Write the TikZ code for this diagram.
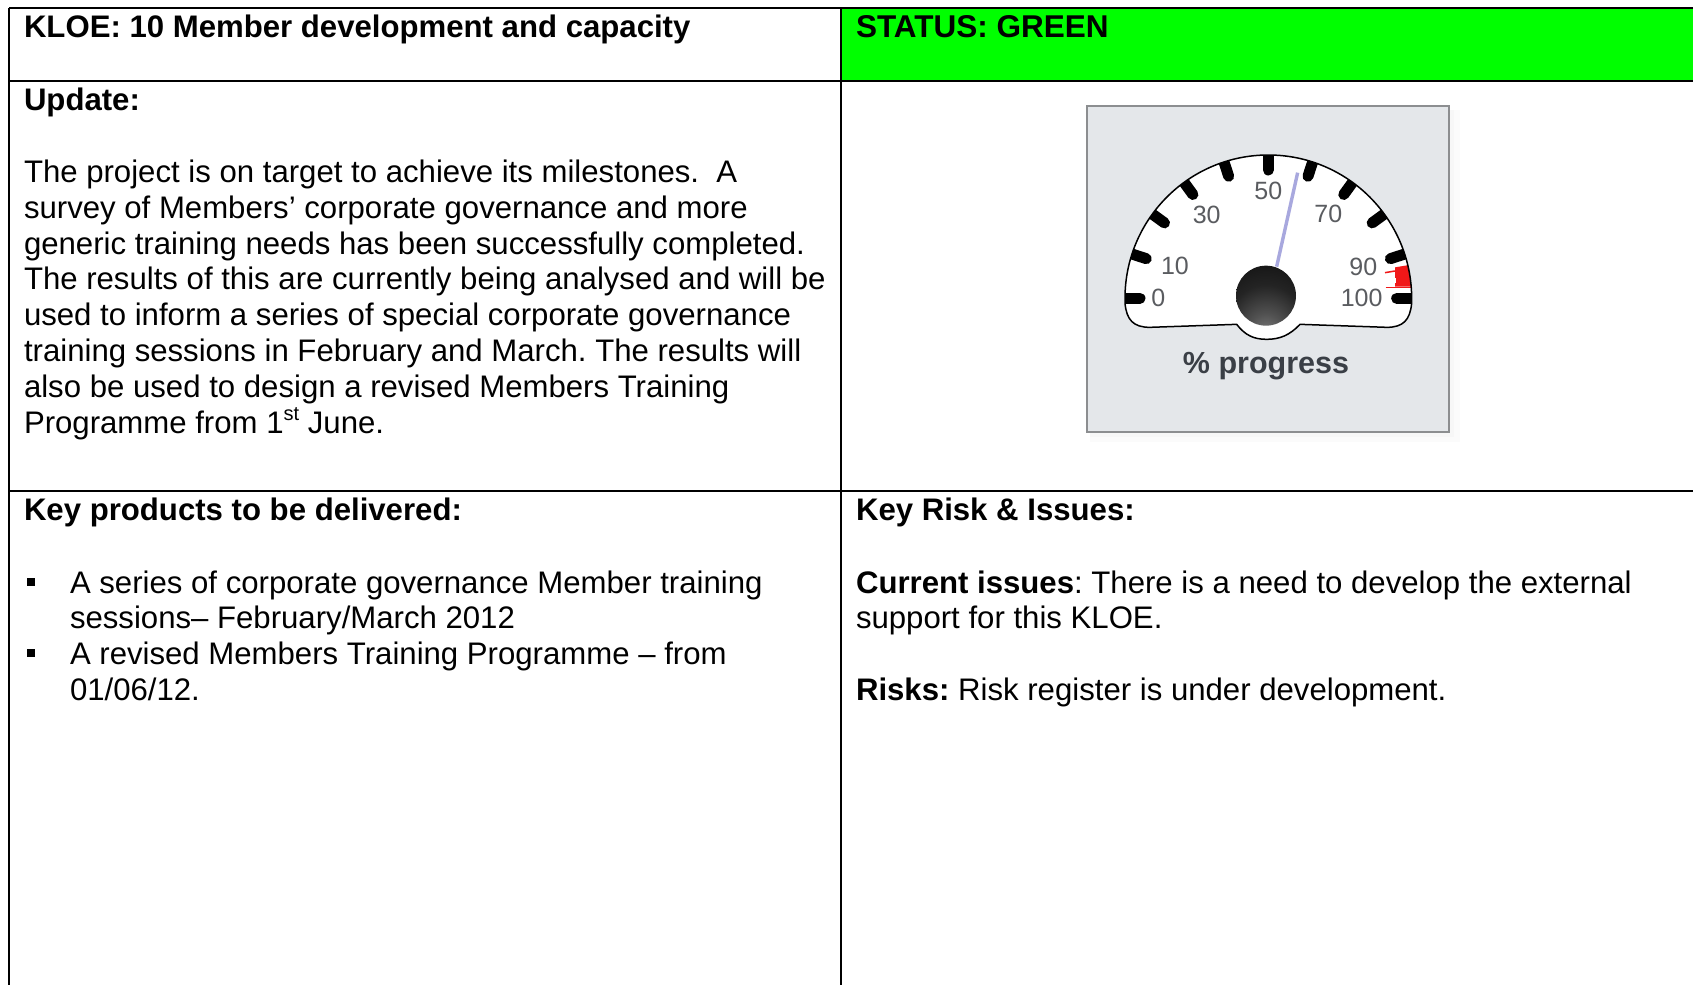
\documentclass[tikz,border=0pt]{standalone}
\usepackage{fontspec}
\usetikzlibrary{calc}
\setmainfont{Liberation Sans}
\definecolor{statusgreen}{HTML}{00FF00}
\definecolor{boxfill}{HTML}{E4E7EA}
\definecolor{boxedge}{HTML}{8C8E90}
\definecolor{digit}{HTML}{5A5C60}
\definecolor{caption}{HTML}{3A3F46}
\definecolor{needle}{HTML}{A8A8DE}
\definecolor{redmark}{HTML}{F01818}
\pgfdeclareradialshading{hubshade}{\pgfpoint{0bp}{-34bp}}{color(0bp)=(black!50); color(14bp)=(black!68); color(32bp)=(black!86); color(60bp)=(black!97); color(100bp)=(black)}
\tikzset{
  txt/.style={anchor=base west,inner sep=0pt,outer sep=0pt,font=\fontsize{31.15}{36}\selectfont\frenchspacing},
  btxt/.style={txt,font=\fontsize{31.15}{36}\selectfont\frenchspacing\bfseries},
  rulethick/.style={line width=2pt,black},
  rulethin/.style={line width=1.1pt,black},
  gaugetick/.style={line width=11pt,line cap=round,black},
  dig/.style={inner sep=0pt,text=digit,font=\fontsize{25}{25}\selectfont},
  bullet/.style={fill=black,draw=none},
}
\begin{document}
\begin{tikzpicture}[x=1pt,y=-1pt]
\useasboundingbox (0,0) rectangle (1693,985);
\fill[white] (0,0) rectangle (1693,985);
% table
\fill[statusgreen] (842,8) rectangle (1693,81);
\draw[rulethick] (9,8) -- (1693,8);
\draw[rulethick] (9,81) -- (1693,81);
\draw[rulethin] (9,491) -- (1693,491);
\draw[line width=1.6pt] (9,8) -- (9,985);
\draw[line width=1.6pt] (841,8) -- (841,985);
% texts
\node[btxt] (kloe) at (24,37) {KLOE: 10 Member development and capacity};
\node[btxt,font=\fontsize{31.5}{36}\selectfont\bfseries] (status) at (856,37) {STATUS: GREEN};
\node[btxt] (update) at (24,110) {Update:};
\node[txt] (u1) at (24,182) {The project is on target to achieve its milestones.\ \ A};
\node[txt] (u2) at (24,218) {survey of Members’ corporate governance and more};
\node[txt] (u3) at (24,254) {generic training needs has been successfully completed.};
\node[txt] (u4) at (24,289) {The results of this are currently being analysed and will be};
\node[txt] (u5) at (24,325) {used to inform a series of special corporate governance};
\node[txt] (u6) at (24,361) {training sessions in February and March. The results will};
\node[txt] (u7) at (24,397) {also be used to design a revised Members Training};
\node[txt] (u8) at (24,433) {Programme from 1\raisebox{13pt}{\fontsize{20}{20}\selectfont st} June.};
\node[btxt] (kp) at (24,520) {Key products to be delivered:};
\fill[bullet] (27,578) rectangle (35,586);
\node[txt] (p1) at (70,593) {A series of corporate governance Member training};
\node[txt] (p2) at (70,628) {sessions– February/March 2012};
\fill[bullet] (27,649) rectangle (35,657);
\node[txt] (p3) at (70,664) {A revised Members Training Programme – from};
\node[txt] (p4) at (70,700) {01/06/12.};
\node[btxt] (kr) at (856,520) {Key Risk \& Issues:};
\node[txt] (c1) at (856,593) {\textbf{Current issues}: There is a need to develop the external};
\node[txt] (c2) at (856,628) {support for this KLOE.};
\node[txt] (r1) at (856,700) {\textbf{Risks:} Risk register is under development.};
% gauge, in coordinates of a 3x crop
\begin{scope}[x=0.33333pt,y=-0.33333pt,shift={(3210,270)}]
  \fill[black!1.5] (60,60) rectangle (1170,1056);
  \fill[black!3] (60,60) rectangle (1152,1040);
  \fill[boxfill] (52,48) rectangle (1138,1026);
  \draw[boxedge,line width=2pt] (52,48) rectangle (1138,1026);
  \def\gaugeoutline{(165,625) arc[start angle=180,end angle=360,radius=430] -- (1025,640)
     .. controls (1020,690) and (1000,712) .. (950,712)
     -- (690,703) .. controls (660,735) and (630,748) .. (590,748)
     .. controls (550,748) and (525,735) .. (500,703)
     -- (240,712) .. controls (190,712) and (170,690) .. (165,640) -- cycle}
  \fill[white] \gaugeoutline;
  \begin{scope}
    \clip \gaugeoutline;
    \foreach \a in {0,18,...,180}{
      \draw[gaugetick] ($(595,625)+(-\a:445)$) -- ($(595,625)+(-\a:385)$);
    }
    \fill[redmark] (975,532) -- (1030,523) -- (1030,590) -- (975,590) -- cycle;
    \draw[redmark,line width=1.5pt] (945,548) -- (975,543);
    \draw[redmark,line width=1.5pt] (947,592) -- (1030,592);
    \draw[white,line width=3pt] (972,565) -- (972,580);
  \end{scope}
  \draw[black,line width=1.5pt] \gaugeoutline;
  \draw[needle,line width=3.4pt] (620,530) -- (683,248);
  \shade[shading=hubshade] (588,617) circle[radius=90];
  \node[dig] (d0) at (265,625) {0};
  \node[dig] (d10) at (315,528) {10};
  \node[dig] (d30) at (410,375) {30};
  \node[dig] (d50) at (595,302) {50};
  \node[dig] (d70) at (775,372) {70};
  \node[dig] (d90) at (880,530) {90};
  \node[dig] (d100) at (875,625) {100};
  \node[inner sep=0pt,text=caption,font=\fontsize{30.5}{30}\selectfont\bfseries] (cap) at (588,829) {\%\ progress};
\end{scope}
\end{tikzpicture}
\end{document}
